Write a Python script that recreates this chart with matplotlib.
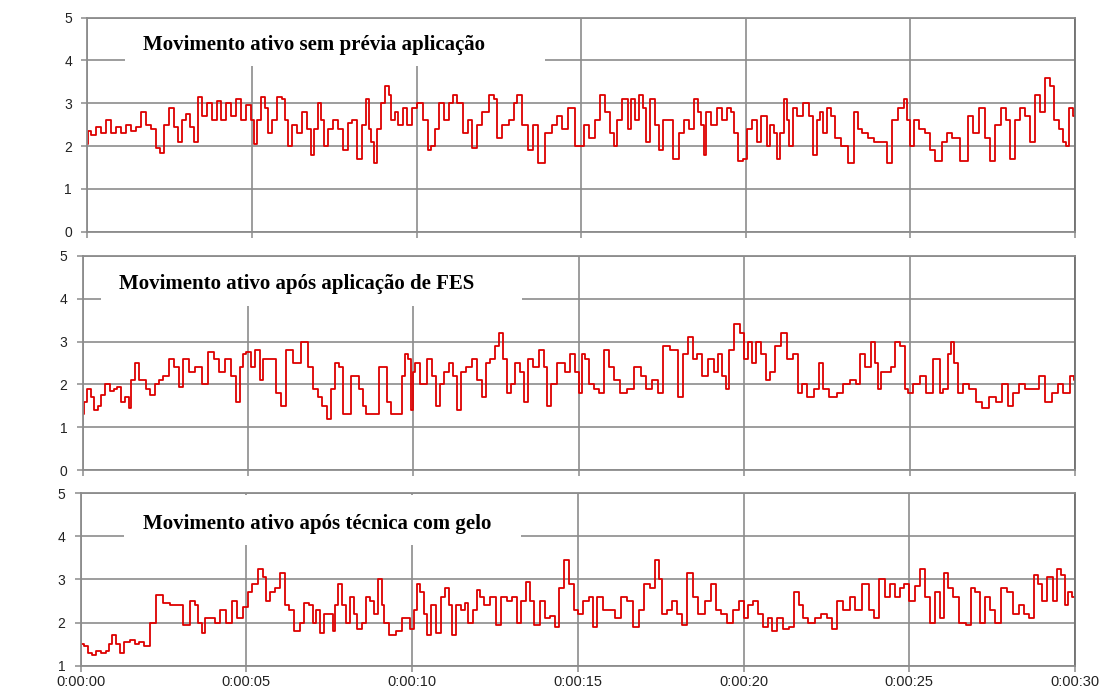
import matplotlib
matplotlib.use("Agg")
import matplotlib.pyplot as plt
from matplotlib.patches import Rectangle

# sinal 1: movimento ativo sem prévia aplicação (tempo em s, amplitude)
t_sem = [0.0, 0.05, 0.2, 0.35, 0.5, 0.65, 0.8, 0.95, 1.1, 1.25,
         1.4, 1.55, 1.7, 1.85, 2.0, 2.15, 2.25, 2.4, 2.55, 2.7,
         2.8, 2.95, 3.05, 3.2, 3.3, 3.4, 3.55, 3.7, 3.85, 4.0,
         4.15, 4.3, 4.45, 4.6, 4.75, 4.9, 5.05, 5.1, 5.2, 5.35,
         5.45, 5.55, 5.7, 5.85, 5.95, 6.05, 6.15, 6.3, 6.45, 6.6,
         6.75, 6.85, 6.95, 7.05, 7.15, 7.25, 7.4, 7.55, 7.7, 7.85,
         8.0, 8.1, 8.3, 8.4, 8.5, 8.6, 8.65, 8.75, 8.85, 9.0,
         9.1, 9.2, 9.27, 9.4, 9.5, 9.65, 9.8, 9.95, 10.1, 10.3,
         10.4, 10.5, 10.6, 10.75, 10.9, 11.05, 11.15, 11.3, 11.5, 11.6,
         11.75, 11.9, 12.1, 12.3, 12.4, 12.5, 12.7, 12.9, 13.0, 13.1,
         13.3, 13.45, 13.6, 13.8, 14.0, 14.2, 14.35, 14.5, 14.7, 14.9,
         15.0, 15.15, 15.35, 15.5, 15.65, 15.8, 15.95, 16.05, 16.15, 16.35,
         16.5, 16.55, 16.7, 16.8, 16.95, 17.0, 17.2, 17.3, 17.45, 17.55,
         17.7, 17.9, 18.05, 18.2, 18.35, 18.5, 18.6, 18.7, 18.75, 18.85,
         19.05, 19.2, 19.35, 19.5, 19.6, 19.7, 19.85, 20.0, 20.1, 20.3,
         20.4, 20.5, 20.6, 20.7, 20.8, 20.9, 21.0, 21.1, 21.2, 21.3,
         21.35, 21.5, 21.6, 21.85, 22.0, 22.1, 22.2, 22.3, 22.4, 22.55,
         22.65, 22.8, 23.0, 23.2, 23.35, 23.45, 23.6, 23.8, 24.0, 24.2,
         24.4, 24.5, 24.75, 24.85, 24.95, 25.05, 25.2, 25.35, 25.55, 25.65,
         25.85, 26.05, 26.2, 26.35, 26.65, 26.85, 26.95, 27.2, 27.35, 27.5,
         27.65, 27.85, 27.95, 28.1, 28.25, 28.4, 28.55, 28.7, 28.85, 29.0,
         29.2, 29.3, 29.45, 29.55, 29.7, 29.75, 29.9, 30.0]
v_sem = [2.05, 2.35, 2.25, 2.45, 2.3, 2.6, 2.3, 2.45, 2.3, 2.5,
         2.35, 2.45, 2.8, 2.5, 2.4, 1.95, 1.85, 2.5, 2.9, 2.45,
         2.1, 2.6, 2.75, 2.45, 2.1, 3.15, 2.7, 3.0, 2.6, 3.05,
         2.6, 3.0, 2.7, 3.1, 2.6, 2.95, 2.6, 2.05, 2.6, 3.15,
         2.9, 2.3, 2.6, 3.15, 3.1, 2.6, 2.0, 2.5, 2.3, 2.8,
         2.4, 1.8, 2.4, 3.0, 2.6, 2.0, 2.4, 2.6, 2.4, 1.9,
         2.55, 2.6, 1.7, 2.5, 3.1, 2.4, 2.1, 1.6, 2.4, 3.0,
         3.4, 3.2, 2.6, 2.8, 2.5, 2.9, 2.5, 2.9, 3.0, 2.6,
         1.9, 2.0, 2.4, 3.0, 2.6, 3.0, 3.2, 3.0, 2.3, 2.6,
         1.95, 2.5, 2.8, 3.2, 3.1, 2.2, 2.5, 2.6, 3.0, 3.2,
         2.5, 1.9, 2.5, 1.6, 2.3, 2.5, 2.7, 2.4, 2.9, 2.0,
         2.0, 2.5, 2.2, 2.6, 3.2, 2.8, 2.3, 2.0, 2.6, 3.1,
         2.4, 3.1, 2.6, 3.2, 2.9, 2.1, 3.1, 2.5, 1.9, 2.6,
         2.6, 1.7, 2.3, 2.6, 2.4, 3.1, 2.8, 2.5, 1.8, 2.8,
         2.5, 2.9, 2.6, 2.9, 2.8, 2.3, 1.65, 1.7, 2.4, 2.6,
         2.1, 2.7, 2.7, 2.0, 2.5, 2.3, 1.7, 2.3, 3.1, 2.6,
         2.0, 2.9, 2.7, 3.0, 2.7, 1.8, 2.6, 2.8, 2.3, 2.9,
         2.7, 2.2, 2.0, 1.6, 2.8, 2.4, 2.3, 2.2, 2.1, 2.1,
         1.6, 2.6, 2.9, 3.1, 2.6, 2.0, 2.6, 2.4, 2.3, 1.9,
         1.65, 2.1, 2.3, 2.2, 1.65, 2.7, 2.3, 2.9, 2.2, 1.65,
         2.5, 2.9, 2.6, 1.7, 2.6, 2.9, 2.7, 2.1, 3.2, 2.8,
         3.6, 3.4, 2.6, 2.4, 2.1, 2.0, 2.9, 2.7]

# sinal 2: movimento ativo após aplicação de FES
t_fes = [0.0, 0.07, 0.22, 0.3, 0.4, 0.5, 0.6, 0.75, 0.9, 1.0,
         1.1, 1.2, 1.35, 1.45, 1.5, 1.65, 1.75, 1.85, 2.0, 2.1,
         2.25, 2.35, 2.5, 2.7, 2.85, 2.95, 3.1, 3.3, 3.5, 3.7,
         3.9, 4.05, 4.2, 4.4, 4.55, 4.7, 4.8, 4.9, 5.0, 5.15,
         5.3, 5.4, 5.5, 5.75, 5.95, 6.05, 6.25, 6.45, 6.75, 6.85,
         7.05, 7.15, 7.3, 7.45, 7.55, 7.7, 7.8, 7.95, 8.1, 8.15,
         8.3, 8.4, 8.55, 8.6, 8.9, 9.0, 9.15, 9.25, 9.4, 9.6,
         9.7, 9.8, 9.9, 9.95, 10.0, 10.1, 10.3, 10.5, 10.6, 10.75,
         10.85, 11.0, 11.15, 11.25, 11.4, 11.5, 11.7, 11.85, 12.0, 12.15,
         12.25, 12.4, 12.55, 12.65, 12.75, 12.9, 13.0, 13.15, 13.3, 13.4,
         13.55, 13.7, 13.9, 14.0, 14.1, 14.2, 14.5, 14.65, 14.8, 14.95,
         15.04, 15.15, 15.25, 15.35, 15.55, 15.7, 15.85, 16.0, 16.15, 16.35,
         16.55, 16.8, 16.95, 17.1, 17.3, 17.5, 17.6, 17.9, 18.1, 18.2,
         18.4, 18.5, 18.65, 18.8, 19.0, 19.15, 19.25, 19.4, 19.5, 19.6,
         19.8, 19.95, 20.05, 20.2, 20.3, 20.4, 20.6, 20.7, 20.85, 21.0,
         21.2, 21.4, 21.55, 21.7, 21.8, 22.0, 22.2, 22.3, 22.45, 22.7,
         22.9, 23.1, 23.3, 23.45, 23.55, 23.75, 23.9, 24.0, 24.1, 24.2,
         24.4, 24.5, 24.6, 24.8, 24.9, 25.0, 25.2, 25.4, 25.6, 25.8,
         25.9, 25.95, 26.1, 26.2, 26.3, 26.4, 26.5, 26.7, 26.9, 27.1,
         27.3, 27.5, 27.7, 27.9, 28.05, 28.2, 28.4, 28.6, 28.8, 29.0,
         29.2, 29.4, 29.55, 29.75, 29.95, 30.0]
v_fes = [1.3, 1.6, 1.9, 1.7, 1.4, 1.5, 1.75, 2.0, 1.85, 1.9,
         1.95, 1.6, 1.7, 1.45, 2.1, 2.5, 2.1, 2.1, 1.9, 1.75,
         2.0, 2.1, 2.2, 2.6, 2.4, 1.95, 2.6, 2.3, 2.4, 2.0,
         2.75, 2.6, 2.3, 2.6, 2.2, 1.6, 2.4, 2.7, 2.75, 2.4,
         2.8, 2.1, 2.6, 2.6, 1.8, 1.5, 2.8, 2.5, 3.0, 2.4,
         1.9, 1.7, 1.5, 1.2, 1.9, 2.5, 2.4, 1.3, 1.3, 2.2,
         2.2, 1.9, 1.5, 1.3, 1.3, 2.4, 2.4, 1.6, 1.3, 1.3,
         2.2, 2.7, 2.6, 1.4, 2.3, 2.5, 2.0, 2.6, 2.2, 1.5,
         2.0, 2.3, 2.5, 2.2, 1.4, 2.3, 2.4, 2.6, 2.1, 1.7,
         2.5, 2.6, 2.9, 3.2, 2.6, 1.8, 2.0, 2.5, 2.3, 1.6,
         2.6, 2.4, 2.8, 2.4, 1.5, 2.0, 2.5, 2.3, 2.7, 2.3,
         1.8, 2.7, 2.6, 2.0, 1.9, 1.8, 2.8, 2.4, 2.1, 1.8,
         1.9, 2.4, 2.2, 1.9, 2.1, 1.8, 2.9, 2.8, 1.7, 2.7,
         3.1, 2.6, 2.7, 2.2, 2.6, 2.3, 2.7, 2.2, 1.9, 2.8,
         3.4, 3.2, 2.6, 3.0, 2.5, 3.0, 2.7, 2.1, 2.3, 2.9,
         3.2, 2.6, 2.7, 1.8, 2.0, 1.7, 1.9, 2.5, 1.9, 1.7,
         1.8, 2.0, 2.1, 2.0, 2.7, 2.4, 3.0, 2.5, 1.9, 2.3,
         2.3, 2.4, 3.0, 2.9, 1.9, 1.8, 2.0, 2.2, 1.8, 2.6,
         2.6, 1.8, 1.9, 2.7, 3.0, 2.5, 1.8, 2.0, 1.9, 1.6,
         1.45, 1.7, 1.6, 2.0, 1.5, 1.8, 2.0, 1.9, 1.9, 2.2,
         1.6, 1.8, 2.0, 1.8, 2.2, 2.1]

# sinal 3: movimento ativo após técnica com gelo
t_gelo = [0.0, 0.18, 0.28, 0.4, 0.55, 0.7, 0.8, 0.9, 1.0, 1.15,
          1.2, 1.4, 1.55, 1.7, 1.85, 2.0, 2.2, 2.35, 2.6, 2.8,
          3.0, 3.2, 3.4, 3.5, 3.6, 3.7, 3.8, 4.0, 4.1, 4.3,
          4.5, 4.65, 4.8, 5.0, 5.1, 5.25, 5.45, 5.55, 5.65, 5.8,
          5.95, 6.1, 6.25, 6.35, 6.55, 6.7, 6.8, 6.95, 7.05, 7.15,
          7.3, 7.4, 7.55, 7.65, 7.7, 7.85, 7.95, 8.05, 8.2, 8.3,
          8.4, 8.55, 8.65, 8.8, 8.9, 9.07, 9.13, 9.2, 9.4, 9.65,
          9.75, 9.9, 10.0, 10.1, 10.2, 10.3, 10.4, 10.5, 10.65, 10.8,
          10.95, 11.05, 11.15, 11.25, 11.4, 11.55, 11.65, 11.75, 11.9, 12.0,
          12.1, 12.25, 12.45, 12.6, 12.75, 12.95, 13.1, 13.25, 13.35, 13.5,
          13.6, 13.75, 13.95, 14.05, 14.25, 14.35, 14.5, 14.65, 14.8, 14.95,
          15.05, 15.25, 15.4, 15.5, 15.65, 15.85, 16.05, 16.2, 16.4, 16.55,
          16.8, 16.9, 17.1, 17.25, 17.4, 17.5, 17.6, 17.8, 17.9, 18.1,
          18.2, 18.4, 18.55, 18.7, 18.95, 19.1, 19.25, 19.4, 19.6, 19.75,
          19.95, 20.05, 20.2, 20.35, 20.5, 20.65, 20.8, 20.9, 21.1, 21.3,
          21.45, 21.6, 21.75, 21.85, 22.05, 22.25, 22.45, 22.6, 22.75, 22.9,
          23.1, 23.3, 23.45, 23.7, 23.85, 24.0, 24.2, 24.35, 24.5, 24.65,
          24.8, 24.9, 25.1, 25.25, 25.4, 25.55, 25.7, 25.85, 26.0, 26.1,
          26.25, 26.4, 26.6, 26.8, 26.9, 27.05, 27.2, 27.35, 27.5, 27.7,
          27.85, 28.05, 28.2, 28.4, 28.55, 28.7, 28.8, 28.95, 29.05, 29.25,
          29.4, 29.5, 29.65, 29.75, 29.85, 30.0]
v_gelo = [1.5, 1.45, 1.3, 1.25, 1.35, 1.3, 1.35, 1.5, 1.7, 1.5,
          1.3, 1.55, 1.6, 1.5, 1.55, 1.45, 2.0, 2.65, 2.45, 2.4,
          2.4, 1.95, 2.5, 2.4, 2.0, 1.75, 2.1, 2.1, 2.0, 2.3,
          2.0, 2.5, 2.1, 2.35, 2.7, 2.9, 3.25, 3.05, 2.5, 2.7,
          2.8, 3.15, 2.4, 2.3, 1.8, 2.0, 2.45, 2.4, 2.0, 2.3,
          1.75, 2.2, 2.2, 1.8, 2.4, 2.9, 2.4, 2.0, 2.6, 2.2,
          1.85, 2.0, 2.6, 2.5, 2.2, 3.0, 2.4, 2.0, 1.7, 1.8,
          2.1, 2.1, 1.85, 2.3, 2.9, 2.7, 2.2, 1.7, 2.4, 1.75,
          2.6, 2.8, 2.4, 1.7, 2.4, 2.3, 2.45, 2.0, 2.3, 2.75,
          2.6, 2.4, 2.6, 1.95, 2.6, 2.5, 2.6, 2.0, 2.5, 2.95,
          2.5, 1.95, 2.5, 2.1, 2.15, 1.9, 2.8, 3.45, 2.9, 2.3,
          2.2, 2.5, 2.6, 1.9, 2.6, 2.3, 2.3, 2.1, 2.6, 2.5,
          1.9, 2.3, 2.9, 2.8, 3.45, 3.0, 2.2, 2.3, 2.5, 2.2,
          1.95, 3.15, 2.6, 2.2, 2.5, 2.9, 2.3, 2.2, 2.0, 2.3,
          2.5, 2.1, 2.4, 2.5, 2.2, 1.9, 2.1, 1.8, 2.1, 1.85,
          1.9, 2.7, 2.4, 2.1, 2.0, 2.1, 2.2, 2.1, 1.85, 2.5,
          2.3, 2.6, 2.3, 2.9, 2.3, 2.1, 3.0, 2.6, 2.9, 2.6,
          2.8, 2.9, 2.5, 2.85, 3.25, 2.6, 2.0, 2.7, 2.1, 3.15,
          2.8, 2.6, 2.0, 1.95, 2.8, 2.7, 2.0, 2.6, 2.3, 2.0,
          2.8, 2.7, 2.2, 2.4, 2.2, 2.1, 3.1, 2.9, 2.5, 3.05,
          2.5, 3.25, 3.1, 2.4, 2.7, 2.6]

titulos = ["Movimento ativo sem prévia aplicação",
           "Movimento ativo após aplicação de FES",
           "Movimento ativo após técnica com gelo"]
x_ticks = [0, 5, 10, 15, 20, 25, 30]
x_labels = ["0:00:%02d" % s for s in x_ticks]

GRID = "#8c8c8c"
LINE = "#dd0000"

fig = plt.figure(figsize=(11.08, 6.95), dpi=100)
fig.patch.set_facecolor("white")

# [left, bottom, width, height], faixa y, caixa do título (t0, t1, y0), centro do título
paineis = [
    dict(rect=[0.0788, 0.6666, 0.8914, 0.3080], ylim=(0, 5),
         caixa=(1.14, 13.9, 3.86), txt=(6.9, 4.37), t=t_sem, v=v_sem),
    dict(rect=[0.0746, 0.3237, 0.8956, 0.3080], ylim=(0, 5),
         caixa=(0.54, 13.27, 3.83), txt=(6.46, 4.35), t=t_fes, v=v_fes),
    dict(rect=[0.0728, 0.0422, 0.8974, 0.2481], ylim=(1, 5),
         caixa=(1.31, 13.3, 3.8), txt=(7.14, 4.29), t=t_gelo, v=v_gelo),
]

for i, p in enumerate(paineis):
    assert len(p["t"]) == len(p["v"])
    ax = fig.add_axes(p["rect"])
    ax.set_xlim(0, 30)
    ax.set_ylim(*p["ylim"])
    ax.set_axisbelow(True)
    ax.grid(True, color=GRID, lw=1.2)
    ax.set_xticks(x_ticks)
    ax.set_yticks(range(p["ylim"][0], 6))
    for s in ax.spines.values():
        s.set_color(GRID)
        s.set_linewidth(1.3)
    ax.spines["right"].set_color("#707070")
    ax.tick_params(direction="out", length=4, color=GRID, width=1.1,
                   labelsize=10, labelcolor="#222222", pad=7)
    for lab in ax.get_yticklabels():
        lab.set_fontfamily("Liberation Sans")
    if i == 2:
        ax.set_xticklabels(x_labels, fontfamily="Liberation Sans", fontsize=10.5)
        ax.tick_params(axis="x", pad=3)
    else:
        ax.set_xticklabels([])

    t0, t1, y0 = p["caixa"]
    ax.add_patch(Rectangle((t0, y0), t1 - t0, 4.97 - y0, facecolor="white",
                           edgecolor="none", zorder=1))
    ax.plot(p["t"], p["v"], color=LINE, lw=1.3, drawstyle="steps-mid", zorder=2)
    ax.text(p["txt"][0], p["txt"][1], titulos[i], ha="center", va="center",
            fontfamily="Liberation Serif", fontweight="bold", fontsize=15,
            color="black", zorder=3)

fig.savefig("out.png", dpi=100)
